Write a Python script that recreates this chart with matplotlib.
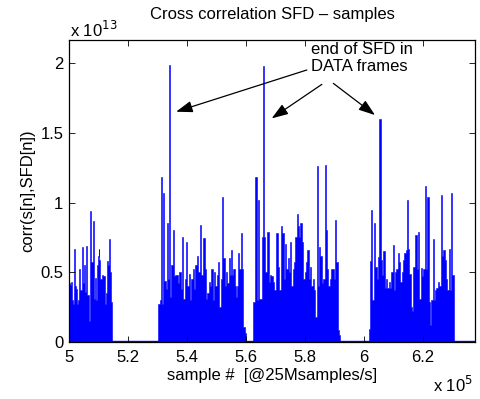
import matplotlib
matplotlib.use('Agg')
import matplotlib.pyplot as plt

plt.rcParams['font.family'] = ['Liberation Sans', 'DejaVu Sans']

# sample index in units of 1e5, correlation in units of 1e13
burst1_x = [5.001, 5.004, 5.008, 5.012, 5.015, 5.018, 5.021, 5.024, 5.027, 5.030,
            5.033, 5.036, 5.039, 5.042, 5.046, 5.049, 5.052, 5.055, 5.059, 5.062,
            5.066, 5.069, 5.073, 5.076, 5.078, 5.082, 5.085, 5.087, 5.091, 5.094,
            5.096, 5.099, 5.101, 5.105, 5.108, 5.110, 5.114, 5.117, 5.119, 5.123,
            5.127, 5.131, 5.134, 5.137, 5.141, 5.144, 5.147]
burst1_y = [0.42, 0.41, 0.43, 0.30, 0.27, 0.67, 0.40, 0.38, 0.28, 0.27,
            0.30, 0.52, 0.37, 0.37, 0.68, 0.42, 0.55, 0.36, 0.69, 0.34,
            0.34, 0.15, 0.94, 0.57, 0.57, 0.87, 0.31, 0.31, 0.46, 0.30,
            0.55, 0.62, 0.67, 0.59, 0.45, 0.45, 0.48, 0.47, 0.47, 0.27,
            0.35, 0.58, 0.55, 0.74, 0.50, 0.29, 0.29]

burst2_x = [5.3007, 5.305, 5.3085, 5.312, 5.316, 5.321, 5.3254, 5.330, 5.333, 5.337,
            5.340, 5.344, 5.349, 5.3535, 5.358, 5.3627, 5.367, 5.372, 5.376, 5.381,
            5.385, 5.390, 5.394, 5.399, 5.403, 5.408, 5.4125, 5.417, 5.421, 5.426,
            5.4305, 5.4356, 5.4407, 5.4464, 5.451, 5.454, 5.4576, 5.462, 5.4668, 5.471,
            5.4756, 5.480, 5.4847, 5.489, 5.494, 5.498, 5.5027, 5.507, 5.512, 5.5166,
            5.521, 5.5254, 5.530, 5.5346, 5.539, 5.5434, 5.5475, 5.5502, 5.555, 5.559,
            5.5637, 5.568, 5.573, 5.575, 5.5797, 5.584, 5.589, 5.593, 5.5976, 5.600]
burst2_y = [0.265, 0.27, 0.30, 1.185, 0.27, 1.066, 0.44, 0.38, 0.85, 0.45,
            1.986, 0.32, 0.55, 0.80, 0.47, 0.48, 0.48, 0.42, 0.50, 0.38,
            0.75, 0.31, 0.45, 0.72, 0.40, 0.49, 0.30, 0.45, 0.52, 0.38,
            0.55, 0.62, 0.50, 0.84, 0.48, 0.52, 0.745, 0.52, 0.31, 0.35,
            0.43, 0.40, 0.52, 0.30, 0.50, 0.40, 0.48, 0.575, 0.25, 0.45,
            1.04, 0.60, 0.40, 0.50, 0.42, 0.60, 0.48, 0.66, 0.48, 0.52,
            0.40, 0.32, 0.40, 0.64, 0.52, 0.78, 0.52, 0.11, 0.065, 0.03]

burst3_x = [5.6227, 5.627, 5.634, 5.6383, 5.643, 5.6475, 5.652, 5.655, 5.661, 5.663,
            5.6678, 5.6746, 5.679, 5.6837, 5.688, 5.6926, 5.698, 5.706, 5.711, 5.715,
            5.720, 5.7254, 5.7298, 5.7346, 5.739, 5.7434, 5.7475, 5.7515, 5.756, 5.760,
            5.765, 5.7695, 5.774, 5.778, 5.7814, 5.7875, 5.792, 5.7966, 5.801, 5.806,
            5.810, 5.8146, 5.819, 5.8237, 5.828, 5.833, 5.837, 5.8414, 5.8458, 5.850,
            5.8542, 5.8587, 5.8634, 5.8685, 5.873, 5.877, 5.8814, 5.8858, 5.8905, 5.895,
            5.8993, 5.9034, 5.9085, 5.913, 5.917]
burst3_y = [0.25, 0.29, 1.18, 0.30, 1.02, 0.31, 0.31, 0.755, 1.98, 0.755,
            0.50, 0.79, 0.43, 0.48, 0.47, 0.43, 0.37, 0.78, 0.54, 0.37,
            0.83, 0.78, 0.45, 0.70, 0.52, 0.60, 0.50, 0.72, 0.40, 0.52,
            0.57, 0.75, 0.92, 0.83, 0.755, 0.85, 0.72, 0.45, 0.50, 0.575,
            0.66, 0.45, 0.54, 0.40, 0.45, 0.37, 0.18, 1.26, 0.40, 0.68,
            0.62, 0.42, 0.45, 1.27, 0.80, 0.52, 0.40, 0.45, 0.52, 0.52,
            0.45, 0.875, 0.57, 0.086, 0.05]

burst4_x = [6.017, 6.0214, 6.026, 6.0305, 6.036, 6.0407, 6.045, 6.050, 6.0542, 6.0587,
            6.0634, 6.068, 6.0722, 6.077, 6.0814, 6.0858, 6.0905, 6.095, 6.099, 6.1034,
            6.1075, 6.112, 6.1163, 6.121, 6.1254, 6.130, 6.1346, 6.139, 6.1434, 6.147,
            6.1515, 6.156, 6.160, 6.165, 6.1695, 6.1763, 6.181, 6.1854, 6.190, 6.1943,
            6.199, 6.2034, 6.2075, 6.212, 6.217, 6.2214, 6.226, 6.2305, 6.234, 6.2383,
            6.243, 6.2475, 6.252, 6.2566, 6.262, 6.2668, 6.2712, 6.2756, 6.280, 6.2847,
            6.2888, 6.293, 6.2973, 6.3017, 6.305]
burst4_y = [0.09, 0.58, 0.946, 0.30, 0.85, 0.54, 0.45, 0.61, 1.60, 0.59,
            0.48, 0.65, 0.39, 0.45, 0.39, 0.43, 0.39, 0.50, 0.695, 0.37,
            0.50, 0.52, 0.64, 0.575, 0.43, 0.50, 0.59, 0.64, 0.66, 1.02,
            0.67, 0.49, 0.25, 0.22, 0.54, 0.77, 0.52, 0.79, 0.31, 0.53,
            0.47, 0.52, 1.118, 0.52, 1.04, 0.29, 0.12, 0.30, 0.735, 0.30,
            0.37, 0.39, 0.43, 0.40, 1.054, 0.62, 0.66, 0.59, 0.45, 0.37,
            0.67, 0.37, 1.07, 0.48, 0.10]

bursts = [(burst1_x, burst1_y), (burst2_x, burst2_y),
          (burst3_x, burst3_y), (burst4_x, burst4_y)]

xticks = [5, 5.2, 5.4, 5.6, 5.8, 6, 6.2]
yticks = [0, 0.5, 1, 1.5, 2]

# annotation arrows: (tail, head) in data units
arrow_tails = [(5.806, 1.950), (5.857, 1.847), (5.896, 1.854)]
arrow_heads = [(5.363, 1.651), (5.687, 1.603), (6.037, 1.627)]

fig = plt.figure(figsize=(4.81, 3.99), dpi=100)
ax = fig.add_axes([69 / 481, 1 - 342 / 399, 406 / 481, 302 / 399])

for bx, by in bursts:
    ax.fill_between(bx, 0, by, step='mid', color='#0000ff', lw=0.4)
ax.axhline(0.006, color='#0000ff', lw=1, zorder=1)

ax.set_xlim(5, 6.376)
ax.set_ylim(0, 2.165)
ax.set_xticks(xticks)
ax.set_xticklabels(['%g' % t for t in xticks])
ax.set_yticks(yticks)
ax.set_yticklabels(['%g' % t for t in yticks])
ax.tick_params(direction='in', top=True, right=True, length=4, width=0.6,
               labelsize=12, colors='black')
ax.tick_params(axis='x', pad=6)
ax.tick_params(axis='y', pad=4)
for s in ax.spines.values():
    s.set_linewidth(0.9)

ax.set_xlabel('sample #  [@25Msamples/s]', fontsize=12, labelpad=2)
ax.set_ylabel('corr(s[n],SFD[n])', fontsize=12, labelpad=4)
fig.text(272 / 481, 1 - 14 / 399, 'Cross correlation SFD \u2013 samples',
         ha='center', va='center', fontsize=12)
ax.text(0.002, 1 + 3 / 302, r'x 10$^{13}$', transform=ax.transAxes,
        ha='left', va='baseline', fontsize=12)
ax.text(0.995, -50 / 302, r'x 10$^{5}$', transform=ax.transAxes,
        ha='right', va='baseline', fontsize=12)

ax.text(5.82, 2.035, 'end of SFD in\nDATA frames', ha='left', va='center',
        fontsize=12, linespacing=1.2)
for tail, head in zip(arrow_tails, arrow_heads):
    ax.annotate('', xy=head, xytext=tail,
                arrowprops=dict(arrowstyle='-|>,head_length=1.0,head_width=0.35',
                                color='black', lw=0.9, shrinkA=0, shrinkB=0))

fig.savefig('out.png', dpi=100)
